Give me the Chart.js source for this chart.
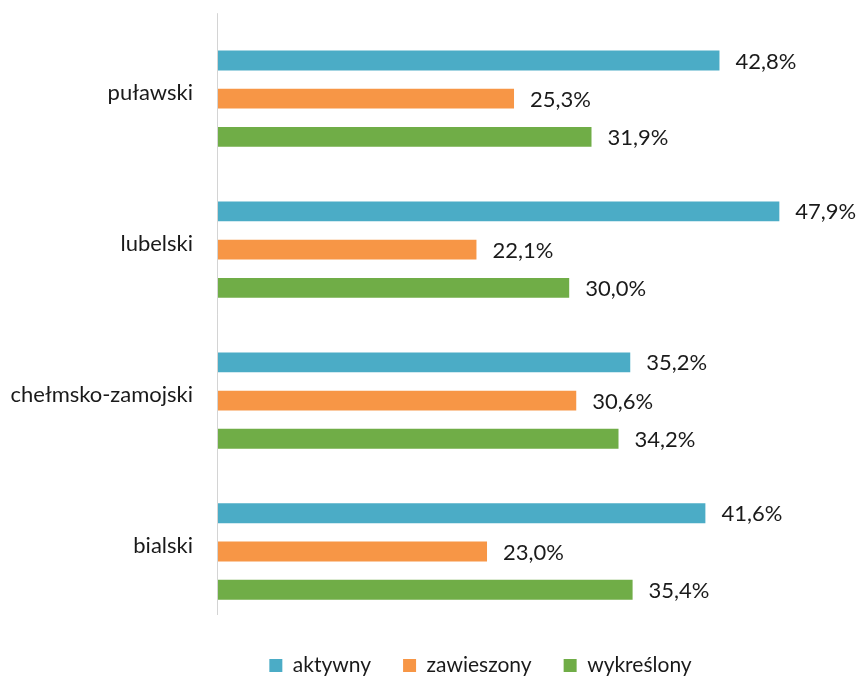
<!DOCTYPE html>
<html>
<head>
<meta charset="utf-8">
<script src="https://cdn.jsdelivr.net/npm/chart.js@4"></script>
<style>
  html, body { margin: 0; padding: 0; background: #fff; overflow: hidden; }
  #wrap { width: 858px; height: 704px; margin-top: -14px; }
</style>
</head>
<body>
<div id="wrap"><canvas id="regionChart"></canvas></div>
<script>
const regions = ["puławski", "lubelski", "chełmsko-zamojski", "bialski"];
const aktywny = [42.8, 47.9, 35.2, 41.6];
const zawieszony = [25.3, 22.1, 30.6, 23.0];
const wykreslony = [31.9, 30.0, 34.2, 35.4];

const FONT = "Lato, 'Open Sans', sans-serif";

// value labels to the right of each bar + the axis line (runs a bit above the bars)
const valueLabels = {
  id: 'valueLabels',
  afterLayout(chart) {
    const lg = chart.legend;
    if (!lg) return;
    lg.left -= 30; lg.right -= 30;
    lg.top -= 4; lg.bottom -= 4;
  },
  afterDatasetsDraw(chart) {
    const ctx = chart.ctx;
    const area = chart.chartArea;
    ctx.save();
    ctx.strokeStyle = '#d4d4d4';
    ctx.lineWidth = 1;
    ctx.beginPath();
    ctx.moveTo(area.left + 0.5, area.top - 10);
    ctx.lineTo(area.left + 0.5, area.bottom - 12);
    ctx.stroke();

    ctx.font = "22px " + FONT;
    ctx.fillStyle = '#1a1a1a';
    ctx.textBaseline = 'middle';
    ctx.textAlign = 'left';
    chart.data.datasets.forEach((ds, i) => {
      chart.getDatasetMeta(i).data.forEach((bar, j) => {
        const txt = ds.data[j].toFixed(1).replace('.', ',') + '%';
        ctx.fillText(txt, bar.x + 16, bar.y + 1);
      });
    });
    ctx.restore();
  }
};

new Chart(document.getElementById('regionChart'), {
  type: 'bar',
  data: {
    labels: regions,
    datasets: [
      { label: 'aktywny', data: aktywny, backgroundColor: '#4BACC6' },
      { label: 'zawieszony', data: zawieszony, backgroundColor: '#F79646' },
      { label: 'wykreślony', data: wykreslony, backgroundColor: '#70AD47' }
    ]
  },
  options: {
    indexAxis: 'y',
    responsive: true,
    maintainAspectRatio: false,
    animation: false,
    categoryPercentage: 0.76,
    barPercentage: 0.52,
    layout: { padding: { top: 0, right: 54, bottom: 0, left: 0 } },
    scales: {
      x: {
        display: false,
        min: 0,
        max: 50
      },
      y: {
        grid: { display: false, drawTicks: false },
        border: { display: false },
        ticks: {
          color: '#1a1a1a',
          padding: 24,
          labelOffset: -6,
          font: { family: FONT, size: 22 }
        },
        afterFit(scale) { scale.width = 217; }
      }
    },
    plugins: {
      legend: {
        position: 'bottom',
        fullSize: false,
        labels: {
          color: '#1a1a1a',
          boxWidth: 13,
          boxHeight: 13,
          padding: 32,
          font: { family: FONT, size: 21 }
        }
      },
      tooltip: { enabled: false }
    }
  },
  plugins: [valueLabels]
});
</script>
</body>
</html>
